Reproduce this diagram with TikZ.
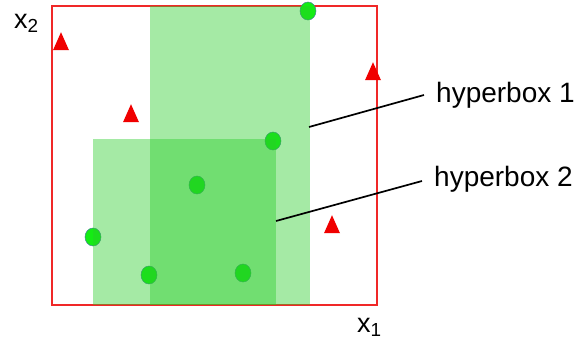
\documentclass[tikz,border=0pt]{standalone}
\usepackage{fontspec}
\setmainfont{Liberation Sans}
\usetikzlibrary{shapes.geometric}
\definecolor{boxgreen}{RGB}{41,205,41}
\definecolor{dotgreen}{RGB}{20,236,20}
\definecolor{dotedge}{RGB}{70,130,150}
\definecolor{framered}{RGB}{240,40,40}
\definecolor{trired}{RGB}{240,0,0}
\tikzset{
  dot/.style={ellipse,minimum width=16pt,minimum height=18pt,inner sep=0pt,fill=dotgreen,draw=dotedge,line width=0.5pt},
  tri/.style={isosceles triangle,isosceles triangle stretches,shape border rotate=90,minimum height=18pt,minimum width=16pt,inner sep=0pt,fill=trired},
  hbox/.style={fill=boxgreen,fill opacity=0.42},
  leader/.style={draw=black,line width=1.7pt},
  lbl/.style={font=\fontsize{28pt}{30pt}\selectfont,inner sep=0pt,anchor=base west},
  axl/.style={font=\fontsize{27pt}{29pt}\selectfont,inner sep=0pt,anchor=base west}
}
\begin{document}
\begin{tikzpicture}[x=1pt,y=-1pt]
\useasboundingbox (0,0) rectangle (576,343);
% frame
\draw[framered,line width=1.3pt] (52,6) rectangle (377,305);
% dots (beneath boxes)
\node[dot] (d1) at (308,11) {};
\node[dot] (d2) at (273,141) {};
\node[dot] (d3) at (197,185) {};
\node[dot] (d4) at (93,237) {};
\node[dot] (d5) at (149,275) {};
\node[dot] (d6) at (243,273) {};
% hyperboxes
\fill[hbox] (150,6) rectangle (310,305);
\fill[hbox] (93,139) rectangle (276,305);
% triangles
\node[tri] (t1) at (61,45) {};
\node[tri] (t2) at (131,117) {};
\node[tri] (t3) at (373,75) {};
\node[tri] (t4) at (332,228) {};
% labels
\node[lbl] (h1) at (436,102) {hyperbox 1};
\node[lbl] (h2) at (434,186) {hyperbox 2};
\coordinate (c1) at (309,127);
\coordinate (c2) at (276,221);
\draw[leader] (c1) -- (424,95) coordinate (e1);
\draw[leader] (c2) -- (422,181) coordinate (e2);
% axis labels
\node[axl] (x2) at (14,28) {x$_{\mathrm{2}}$};
\node[axl] (x1) at (357,332) {x$_{\mathrm{1}}$};
\end{tikzpicture}
\end{document}
